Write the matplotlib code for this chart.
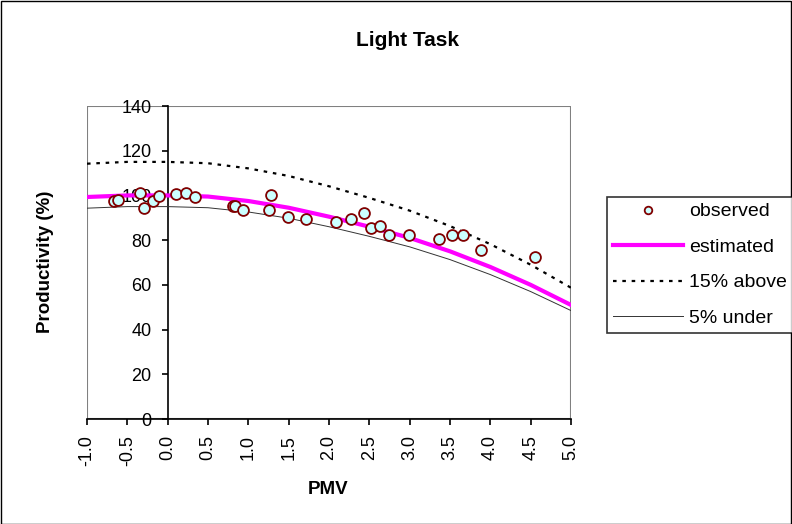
import numpy as np
import matplotlib
matplotlib.use("Agg")
import matplotlib.pyplot as plt
from matplotlib.patches import Rectangle

plt.rcParams['font.family'] = ['Liberation Sans', 'DejaVu Sans']
plt.rcParams['axes.unicode_minus'] = False

# observed points (PMV, productivity %)
obs_pmv = [-0.66, -0.62, -0.34, -0.29, -0.18, -0.11, 0.10, 0.23, 0.34, 0.81, 0.84, 0.94,
           1.28, 1.26, 1.49, 1.71, 2.09, 2.27, 2.43, 2.52, 2.63, 2.74, 2.99, 3.36, 3.53,
           3.66, 3.88, 4.55]
obs_prod = [97.5, 97.8, 101.1, 94.5, 97.4, 99.6, 100.8, 101.1, 99.3, 95.3, 95.1, 93.6,
            100.1, 93.6, 90.3, 89.3, 87.9, 89.4, 92.1, 85.6, 86.3, 82.3, 82.3, 80.5, 82.4,
            82.4, 75.7, 72.4]

# curves read at 0.5 PMV steps
curve_pmv = [-1.0, -0.5, 0.0, 0.5, 1.0, 1.5, 2.0, 2.5, 3.0, 3.5, 4.0, 4.5, 5.0]
estimated = [99.3, 100, 100, 99.5, 97.5, 94.5, 90.5, 86, 81, 75, 68, 60, 51]
above15 = [114.2, 115, 115, 114.4, 112.1, 108.7, 104.1, 98.9, 93.2, 86.3, 78.2, 69, 58.7]
under5 = [94.3, 95, 95, 94.5, 92.6, 89.8, 86, 81.7, 77, 71.3, 64.6, 57, 48.5]

xticks = [-1.0, -0.5, 0.0, 0.5, 1.0, 1.5, 2.0, 2.5, 3.0, 3.5, 4.0, 4.5, 5.0]
yticks = [0, 20, 40, 60, 80, 100, 120, 140]

W, H = 792, 524
fig = plt.figure(figsize=(W / 100, H / 100), dpi=100)
fig.patch.set_facecolor('white')
fig.add_artist(Rectangle((0.5 / W, 0.5 / H), 1 - 1.5 / W, 1 - 1.5 / H, transform=fig.transFigure,
                         fill=False, edgecolor='black', linewidth=1))

ax = fig.add_axes([87 / W, 1 - 419 / H, (571 - 87) / W, (419 - 106) / H])

l_obs, = ax.plot(obs_pmv, obs_prod, linestyle='none', marker='o', markersize=7.8,
                 markerfacecolor='#CCFFFF', markeredgecolor='#800000', markeredgewidth=1.3,
                 label='observed', zorder=5)
l_est, = ax.plot(curve_pmv, estimated, color='#FF00FF', linewidth=3, label='estimated', zorder=4)
l_up, = ax.plot(curve_pmv, above15, color='black', linewidth=1.6, linestyle=(0, (1.6, 2.6)),
                label='15% above', zorder=3)
l_dn, = ax.plot(curve_pmv, under5, color='#333333', linewidth=0.7, label='5% under', zorder=3)

ax.set_xlim(-1, 5)
ax.set_ylim(0, 140)

# plot area box
ax.add_patch(Rectangle((0, 0), 1, 1, transform=ax.transAxes, fill=False,
                       edgecolor='#808080', linewidth=1.5, zorder=0))
ax.spines['top'].set_visible(False)
ax.spines['right'].set_visible(False)
ax.spines['left'].set_position(('data', 0))
ax.spines['left'].set_linewidth(1.2)
ax.spines['bottom'].set_linewidth(1.2)

ax.set_xticks(xticks)
ax.set_xticklabels([f"{v:.1f}" for v in xticks], rotation=90, fontsize=13)
ax.set_yticks(yticks)
ax.set_yticklabels([str(v) for v in yticks], fontsize=13)
ax.tick_params(axis='both', direction='out', length=4.5, width=1.2, colors='black')
ax.tick_params(axis='x', pad=7)
ax.tick_params(axis='y', pad=7)

fig.text(408 / W, 1 - 40 / H, 'Light Task', ha='center', va='center', fontsize=15, fontweight='bold')
fig.text(45 / W, 1 - 262 / H, 'Productivity (%)', ha='center', va='center', rotation=90,
         fontsize=13.5, fontweight='bold')
fig.text(328 / W, 1 - 490 / H, 'PMV', ha='center', va='center', fontsize=13.5, fontweight='bold')

leg = fig.legend(handles=[l_obs, l_est, l_up, l_dn], loc='upper left',
                 bbox_to_anchor=(606.7 / W, 1 - 197 / H, (810 - 606.7) / W, 0), mode='expand',
                 borderaxespad=0, fontsize=14, frameon=True, fancybox=False,
                 handlelength=3.6, handletextpad=0.35, labelspacing=0.92, borderpad=0.3,
                 markerscale=0.7)
leg.get_frame().set_edgecolor('black')
leg.get_frame().set_linewidth(1.2)

plt.savefig('out.png', dpi=100)
